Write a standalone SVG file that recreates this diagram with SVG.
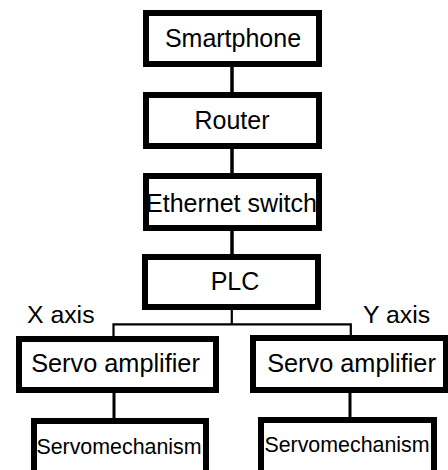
<svg xmlns="http://www.w3.org/2000/svg" width="448" height="470" viewBox="0 0 448 470">
  <style>
    .box { fill: #ffffff; stroke: #000000; stroke-width: 6; }
    .lbl { font-family: "Liberation Sans", Arial, sans-serif; font-size: 25px; fill: #000000; text-anchor: middle; }
    .small { font-size: 21.4px; }
    .amp { font-size: 25.3px; }
    .axis { font-family: "Liberation Sans", Arial, sans-serif; font-size: 24.8px; fill: #000000; }
    .wire { stroke: #000000; fill: none; }
    .thick { stroke-width: 3.5; }
    .thin { stroke-width: 2.2; }
    .mid { stroke-width: 3; }
  </style>
  <rect width="448" height="470" fill="#ffffff"/>

  <!-- links between the blocks -->
  <g id="connectors">
    <line class="wire thick" x1="232" y1="66" x2="232" y2="93"/>
    <line class="wire thick" x1="232" y1="148" x2="232" y2="174"/>
    <line class="wire thick" x1="232" y1="230" x2="232" y2="255"/>
    <line class="wire thin" x1="231.8" y1="309" x2="231.8" y2="324.3"/>
    <polyline class="wire thin" points="113.5,336 113.5,324.3 350.8,324.3 350.8,335"/>
    <line class="wire mid" x1="114" y1="392" x2="114" y2="419"/>
    <line class="wire mid" x1="350" y1="392" x2="350" y2="418"/>
  </g>

  <g id="smartphone">
    <rect class="box" x="146" y="13" width="173" height="51"/>
    <text class="lbl" x="233" y="47">Smartphone</text>
  </g>
  <g id="router">
    <rect class="box" x="146" y="95" width="173" height="51"/>
    <text class="lbl" x="232" y="129">Router</text>
  </g>
  <g id="ethernet-switch">
    <rect class="box" x="146" y="176" width="173" height="52"/>
    <text class="lbl" x="231.5" y="212">Ethernet switch</text>
  </g>
  <g id="plc">
    <rect class="box" x="145" y="257" width="173" height="50"/>
    <text class="lbl" x="235" y="290">PLC</text>
  </g>

  <text class="axis" x="27" y="323">X axis</text>
  <text class="axis" x="363" y="323">Y axis</text>

  <g id="servo-amplifier-x">
    <rect class="box" x="19" y="339" width="197" height="51"/>
    <text class="lbl amp" x="115.5" y="372">Servo amplifier</text>
  </g>
  <g id="servo-amplifier-y">
    <rect class="box" x="253" y="338" width="193" height="52"/>
    <text class="lbl amp" x="351.5" y="372">Servo amplifier</text>
  </g>
  <g id="servomechanism-x">
    <rect class="box" x="34" y="421" width="172" height="60"/>
    <text class="lbl small" x="119" y="454">Servomechanism</text>
  </g>
  <g id="servomechanism-y">
    <rect class="box" x="261" y="420" width="173" height="60"/>
    <text class="lbl small" x="347" y="452">Servomechanism</text>
  </g>
</svg>
